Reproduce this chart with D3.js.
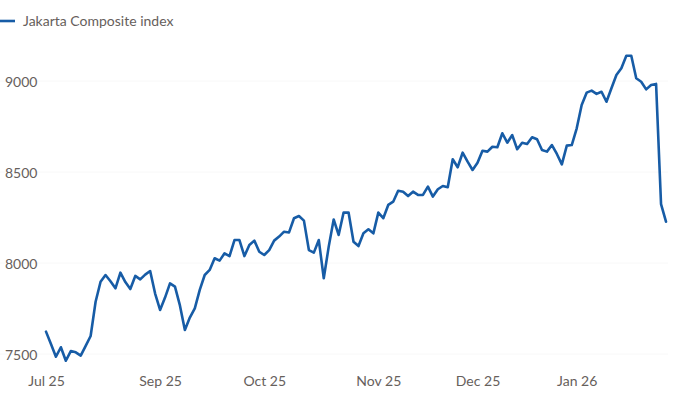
<!DOCTYPE html>
<html>
<head>
<meta charset="utf-8">
<script src="https://cdn.jsdelivr.net/npm/d3@7"></script>
<style>
  html, body { margin: 0; padding: 0; background: #ffffff; }
  svg { display: block; font-family: Lato, "Open Sans", sans-serif; }
</style>
</head>
<body>
<svg id="chart" width="690" height="400"></svg>
<script>
// Trading-day series of the Jakarta Composite index (late Jul 2025 – end Jan 2026)
const seriesName = "Jakarta Composite index";
const values = [
  7623, 7555, 7485, 7537, 7463, 7516, 7509, 7491, 7545, 7599,
  7787, 7897, 7934, 7900, 7861, 7947, 7895, 7857, 7929, 7910,
  7936, 7956, 7832, 7742, 7810, 7888, 7870, 7767, 7632, 7700,
  7751, 7852, 7934, 7962, 8026, 8013, 8053, 8038, 8126, 8126,
  8038, 8099, 8123, 8062, 8044, 8071, 8123, 8145, 8172, 8168,
  8246, 8258, 8233, 8071, 8057, 8126, 7916, 8090, 8239, 8154,
  8277, 8277, 8117, 8093, 8163, 8185, 8163, 8277, 8246, 8319,
  8337, 8397, 8392, 8368, 8392, 8374, 8374, 8420, 8365, 8405,
  8423, 8416, 8570, 8526, 8606, 8557, 8511, 8551, 8617, 8612,
  8639, 8636, 8713, 8661, 8703, 8625, 8661, 8654, 8691, 8680,
  8621, 8612, 8648, 8599, 8542, 8645, 8648, 8740, 8868, 8936,
  8947, 8929, 8941, 8886, 8960, 9033, 9070, 9139, 9139, 9015,
  8996, 8954, 8978, 8984, 8324, 8227
];
// x-axis tick labels at the first trading day of each labelled month (index into values)
const xTickIndex = [0, 23, 44, 67, 87, 107];
const xTickLabels = ["Jul 25", "Sep 25", "Oct 25", "Nov 25", "Dec 25", "Jan 26"];
const yTicks = [7500, 8000, 8500, 9000];

const svg = d3.select("#chart");
const textColor = "#66605c";
const lineColor = "#175ca6";

const x = d3.scaleLinear().domain([0, values.length - 1]).range([46, 666]);
const y = d3.scaleLinear().domain([7500, 9000]).range([354, 81]);

// very faint gridlines
svg.append("g")
  .selectAll("line")
  .data(yTicks)
  .join("line")
  .attr("x1", 0).attr("x2", 668)
  .attr("y1", d => y(d)).attr("y2", d => y(d))
  .attr("stroke", "#f8f8f8").attr("stroke-width", 1);

// y axis labels
const yAxis = d3.axisLeft(y).tickValues(yTicks).tickSize(0).tickPadding(0).tickFormat(d3.format("d"));
const gy = svg.append("g").attr("transform", "translate(5,1)").call(yAxis);
gy.select(".domain").remove();
gy.selectAll("text")
  .attr("text-anchor", "start")
  .attr("x", 0)
  .attr("fill", textColor)
  .style("font-size", "14px")
  .style("font-family", "Lato, sans-serif");

// x axis labels
const xAxis = d3.axisBottom(x).tickValues(xTickIndex).tickSize(0).tickPadding(0)
  .tickFormat((d, i) => xTickLabels[i]);
const gx = svg.append("g").attr("transform", "translate(0,376)").call(xAxis);
gx.select(".domain").remove();
gx.selectAll("text")
  .attr("fill", textColor)
  .style("font-size", "14px")
  .style("font-family", "Lato, sans-serif");

// line
const line = d3.line().x((d, i) => x(i)).y(d => y(d)).curve(d3.curveLinear);
svg.append("path")
  .datum(values)
  .attr("d", line)
  .attr("fill", "none")
  .attr("stroke", lineColor)
  .attr("stroke-width", 2.6)
  .attr("stroke-linejoin", "round")
  .attr("stroke-linecap", "round");

// legend
const legend = svg.append("g").attr("transform", "translate(0,21)");
legend.append("line")
  .attr("x1", 0).attr("x2", 15).attr("y1", 0).attr("y2", 0)
  .attr("stroke", lineColor).attr("stroke-width", 2.6);
legend.append("text")
  .attr("x", 23).attr("y", 0).attr("dy", "0.35em")
  .attr("fill", textColor)
  .style("font-size", "14px")
  .style("font-family", "Lato, sans-serif")
  .text(seriesName);
</script>
</body>
</html>
